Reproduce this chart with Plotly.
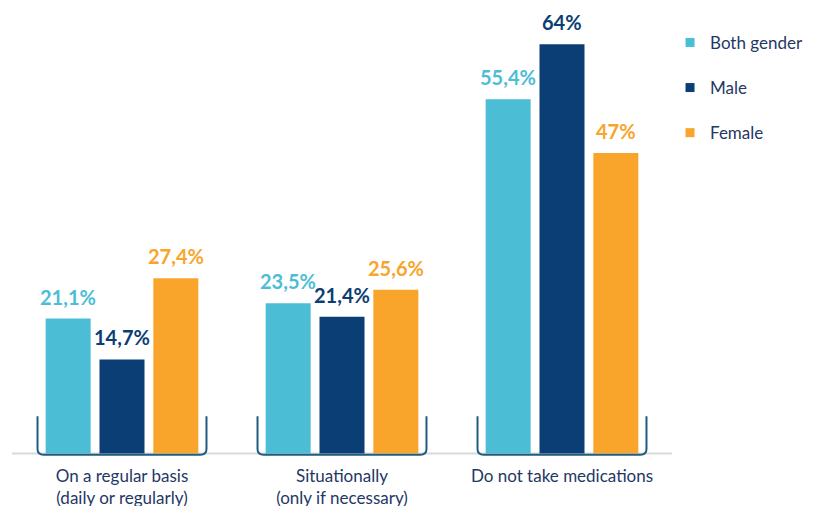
import plotly.graph_objects as go

# Survey data: share of respondents by medication habit
categories = [
    "On a regular basis<br>(daily or regularly)",
    "Situationally<br>(only if necessary)",
    "Do not take medications",
]
series_names = ["Both gender", "Male", "Female"]
both_gender = [21.1, 23.5, 55.4]
male = [14.7, 21.4, 64.0]
female = [27.4, 25.6, 47.0]

colors = ["#4BBED6", "#0B3E74", "#F9A42A"]
navy_text = "#1F3864"
bracket_color = "#1F5C7F"
font_family = "Lato, 'Open Sans', sans-serif"

BARGAP = 0.266
BARGROUPGAP = 0.164

def fmt(v):
    return f"{v:g}".replace(".", ",") + "%"

fig = go.Figure()
x_pos = list(range(len(categories)))
all_series = [both_gender, male, female]

for name, vals, col in zip(series_names, all_series, colors):
    fig.add_trace(go.Bar(
        x=x_pos, y=vals, name=name, marker=dict(color=col, line=dict(width=0)),
        showlegend=False, hoverinfo="skip",
    ))
    # legend proxy with a small square swatch
    fig.add_trace(go.Scatter(
        x=[None], y=[None], mode="markers", name=name, legendgroup=name,
        marker=dict(symbol="square", size=9, color=col),
    ))

# value labels above each bar
slot = (1 - BARGAP) / len(all_series)
for i, (vals, col) in enumerate(zip(all_series, colors)):
    off = (i - (len(all_series) - 1) / 2) * slot
    for g, v in enumerate(vals):
        fig.add_annotation(
            x=g + off, y=v, text=f"<b>{fmt(v)}</b>", showarrow=False,
            yanchor="bottom", yshift=8,
            font=dict(family=font_family, size=20, color=col),
        )

# light baseline under the bars
fig.add_shape(type="line", xref="paper", yref="y", x0=0, x1=1, y0=0, y1=0,
              line=dict(color="#D9D9D9", width=2), layer="below")

# brackets beneath each group
rx, ry = 0.028, 0.9
half = 0.384
top, bot = 5.8, -0.2
for g in x_pos:
    x0, x1 = g - half, g + half
    path = (f"M {x0},{top} L {x0},{bot + ry} Q {x0},{bot} {x0 + rx},{bot} "
            f"L {x1 - rx},{bot} Q {x1},{bot} {x1},{bot + ry} L {x1},{top}")
    fig.add_shape(type="path", path=path, xref="x", yref="y",
                  line=dict(color=bracket_color, width=2))

fig.update_layout(
    width=817, height=506,
    margin=dict(l=12, r=145, t=6, b=50, autoexpand=False),
    paper_bgcolor="white", plot_bgcolor="white",
    barmode="group", bargap=BARGAP, bargroupgap=BARGROUPGAP,
    font=dict(family=font_family, size=17, color=navy_text),
    legend=dict(
        xref="paper", yref="paper", x=0.997, y=0.958,
        xanchor="left", yanchor="top", tracegroupgap=20,
        font=dict(family=font_family, size=17, color=navy_text),
        bgcolor="rgba(0,0,0,0)",
    ),
    xaxis=dict(
        range=[-0.5, 2.5], tickmode="array", tickvals=x_pos, ticktext=categories,
        showline=False, showgrid=False, zeroline=False, ticks="",
        ticklabelstandoff=8, automargin=False,
        tickfont=dict(family=font_family, size=17, color=navy_text),
    ),
    yaxis=dict(range=[-0.4, 70], visible=False, showgrid=False, zeroline=False),
)

fig.write_html("out.html")
